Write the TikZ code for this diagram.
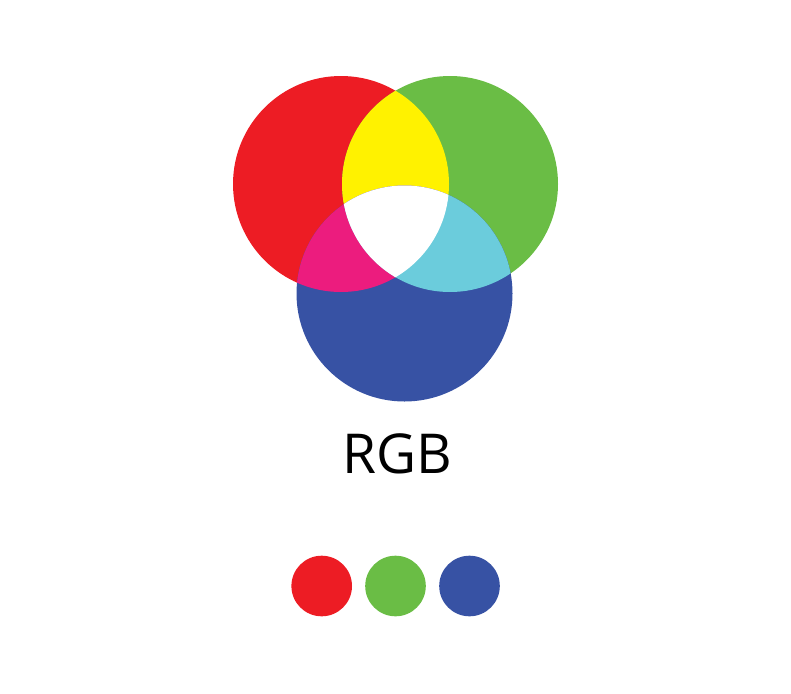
\documentclass[tikz,border=0pt]{standalone}
\usepackage{fontspec}
\setmainfont{Open Sans}
\definecolor{rgbred}{HTML}{ED1C24}
\definecolor{rgbgreen}{HTML}{6ABD45}
\definecolor{rgbblue}{HTML}{3752A4}
\definecolor{mixyellow}{HTML}{FFF200}
\definecolor{mixmagenta}{HTML}{EC1C7E}
\definecolor{mixcyan}{HTML}{6BCCDC}
\newcommand{\overlapfill}[3]{%
  \begin{scope}
    \clip (#1) circle (108);
    \fill[#3] (#2) circle (108);
  \end{scope}
}

\begin{document}
\begin{tikzpicture}[x=1pt, y=-1pt]
  \useasboundingbox (0,0) rectangle (791,693);

  \coordinate (red) at (341,184);
  \coordinate (green) at (450,184);
  \coordinate (blue) at (404.5,293.5);

  % primaries
  \fill[rgbred] (red) circle (108);
  \fill[rgbgreen] (green) circle (108);
  \fill[rgbblue] (blue) circle (108);

  % pairwise mixes
  \overlapfill{red}{green}{mixyellow}
  \overlapfill{red}{blue}{mixmagenta}
  \overlapfill{green}{blue}{mixcyan}

  % all three
  \begin{scope}
    \clip (red) circle (108);
    \clip (green) circle (108);
    \fill[white] (blue) circle (108);
  \end{scope}

  \node[font=\fontsize{55}{62}\selectfont, inner sep=0pt, anchor=base] (label) at (397,473) {RGB};

  % swatches
  \foreach \c/\x in {rgbred/321.7, rgbgreen/395.5, rgbblue/469.5}
    \fill[\c] (\x,586) circle (30.3);
\end{tikzpicture}
\end{document}
